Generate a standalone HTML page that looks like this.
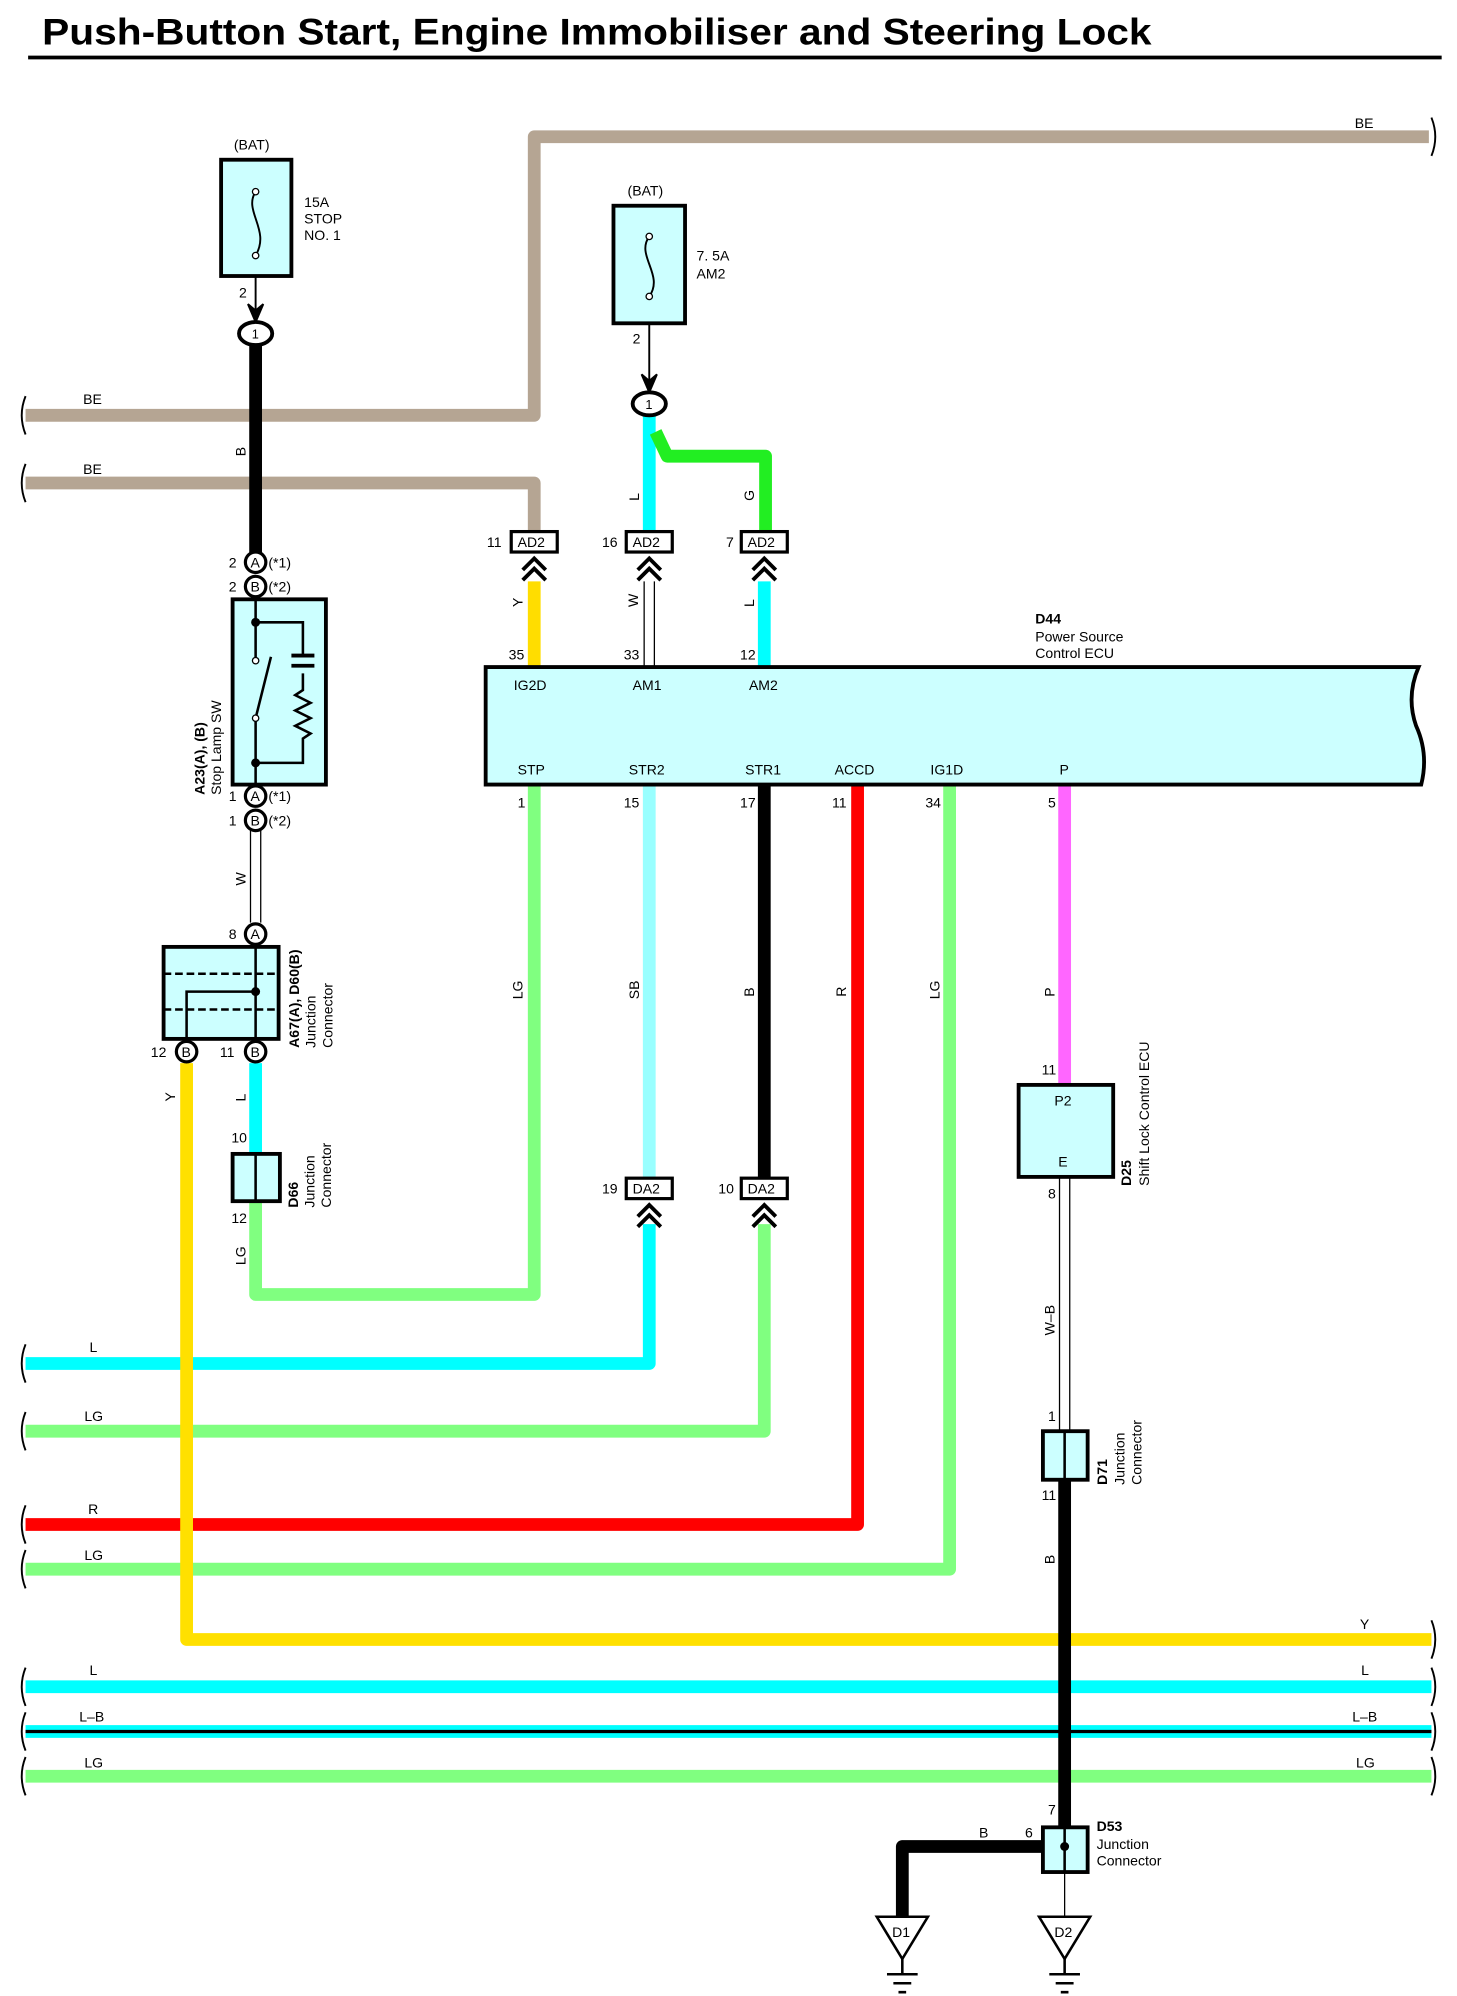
<!DOCTYPE html>
<html><head><meta charset="utf-8"><style>
html,body{margin:0;padding:0;background:#fff}
svg{display:block}
text{font-family:"Liberation Sans",sans-serif;font-size:11px;fill:#000}
.b{font-weight:bold}
</style></head><body>
<svg width="1457" height="1996" viewBox="0 0 1140 1562" preserveAspectRatio="none" xmlns="http://www.w3.org/2000/svg">
<text x="33" y="35" class="b" style="font-size:29px" textLength="868" lengthAdjust="spacingAndGlyphs">Push-Button Start, Engine Immobiliser and Steering Lock</text>
<line x1="22" y1="45" x2="1128" y2="45" stroke="#000" stroke-width="3"/>

<g fill="none" stroke-linejoin="round" stroke-linecap="butt">
<path d="M1118,107 H418 V325 H20" stroke="#b5a593" stroke-width="10"/>
<path d="M20,378 H418 V416" stroke="#b5a593" stroke-width="10"/>
<path d="M20,1067 H508 V958" stroke="#00ffff" stroke-width="10"/>
<path d="M20,1120 H598 V958" stroke="#80ff80" stroke-width="10"/>
<path d="M20,1193 H671 V614" stroke="#ff0000" stroke-width="10"/>
<path d="M20,1228 H743 V614" stroke="#80ff80" stroke-width="10"/>
<path d="M146,832 V1283 H1120" stroke="#ffe000" stroke-width="10"/>
<path d="M20,1320 H1120" stroke="#00ffff" stroke-width="10"/>
<path d="M20,1355 H1120" stroke="#00ffff" stroke-width="10"/>
<path d="M20,1355 H1120" stroke="#000" stroke-width="2.5"/>
<path d="M20,1390 H1120" stroke="#80ff80" stroke-width="10"/>
<path d="M200,270 V433" stroke="#000" stroke-width="10"/>
<path d="M200,832 V903" stroke="#00ffff" stroke-width="10"/>
<path d="M200,940 V1013 H418 V614" stroke="#80ff80" stroke-width="10"/>
<path d="M508,324 V416" stroke="#00ffff" stroke-width="10"/>
<path d="M513,338 L522,357 H599 V416" stroke="#22ee22" stroke-width="10"/>
<path d="M418,455 V522" stroke="#ffdd00" stroke-width="10"/>
<path d="M598,455 V522" stroke="#00ffff" stroke-width="10"/>
<path d="M508,614 V922" stroke="#99ffff" stroke-width="10"/>
<path d="M598,614 V922" stroke="#000" stroke-width="10"/>
<path d="M833,614 V849" stroke="#ff66ff" stroke-width="10"/>
<path d="M833,1158 V1430" stroke="#000" stroke-width="10"/>
<path d="M816,1445 H706 V1500" stroke="#000" stroke-width="10"/>
</g>
<g stroke="#000" stroke-width="1" fill="none">
<path d="M196,650 V722 M204,650 V722"/>
<path d="M504,455 V522 M512,455 V522"/>
<path d="M829,921 V1120 M837,921 V1120"/>
<path d="M833,1465 V1500"/>
<path d="M200,216 V250" stroke-width="1.5"/>
<path d="M508,253 V305" stroke-width="1.5"/>
</g>
<path d="M194,238 L200,252 L206,238 L200,243 Z" fill="#000" stroke="#000" stroke-width="1.5"/>
<path d="M502,293 L508,307 L514,293 L508,298 Z" fill="#000" stroke="#000" stroke-width="1.5"/>
<g stroke="#000" stroke-width="1.5" fill="none">
<path d="M20,310 q-6,15 0,30"/><path d="M20,363 q-6,15 0,30"/>
<path d="M20,1052 q-6,15 0,30"/><path d="M20,1105 q-6,15 0,30"/>
<path d="M20,1178 q-6,15 0,30"/><path d="M20,1213 q-6,15 0,30"/>
<path d="M20,1305 q-6,15 0,30"/><path d="M20,1340 q-6,15 0,30"/><path d="M20,1375 q-6,15 0,30"/>
<path d="M1120,92 q6,15 0,30"/><path d="M1120,1268 q6,15 0,30"/>
<path d="M1120,1305 q6,15 0,30"/><path d="M1120,1340 q6,15 0,30"/><path d="M1120,1375 q6,15 0,30"/>
</g>
<rect x="173" y="125" width="55" height="91" fill="#ccffff" stroke="#000" stroke-width="3"/>
<path d="M200,150 C190,165 212,180 200,200" fill="none" stroke="#000" stroke-width="1.5"/>
<circle cx="200" cy="150" r="2.5" fill="#fff" stroke="#000"/><circle cx="200" cy="200" r="2.5" fill="#fff" stroke="#000"/>
<text x="183" y="117">(BAT)</text>
<text x="238" y="162">15A</text><text x="238" y="175">STOP</text><text x="238" y="188">NO. 1</text>
<text x="187" y="233">2</text>
<ellipse cx="200" cy="261" rx="13" ry="9" fill="#fff" stroke="#000" stroke-width="3"/><text x="197" y="265" style="font-size:10px">1</text>

<rect x="480" y="161" width="56" height="92" fill="#ccffff" stroke="#000" stroke-width="3"/>
<path d="M508,185 C497,200 520,215 508,232" fill="none" stroke="#000" stroke-width="1.5"/>
<circle cx="508" cy="185" r="2.5" fill="#fff" stroke="#000"/><circle cx="508" cy="232" r="2.5" fill="#fff" stroke="#000"/>
<text x="491" y="153">(BAT)</text>
<text x="545" y="204">7. 5A</text><text x="545" y="218">AM2</text>
<text x="495" y="269">2</text>
<ellipse cx="508" cy="316" rx="13" ry="9" fill="#fff" stroke="#000" stroke-width="3"/><text x="505" y="320" style="font-size:10px">1</text>

<g font-size="11">
<rect x="400" y="416" width="36" height="16" fill="#fff" stroke="#000" stroke-width="2.5"/><text x="405" y="428">AD2</text><text x="381" y="428">11</text>
<rect x="490" y="416" width="36" height="16" fill="#fff" stroke="#000" stroke-width="2.5"/><text x="495" y="428">AD2</text><text x="471" y="428">16</text>
<rect x="580" y="416" width="36" height="16" fill="#fff" stroke="#000" stroke-width="2.5"/><text x="585" y="428">AD2</text><text x="568" y="428">7</text>
<rect x="490" y="922" width="36" height="16" fill="#fff" stroke="#000" stroke-width="2.5"/><text x="495" y="934">DA2</text><text x="471" y="934">19</text>
<rect x="580" y="922" width="36" height="16" fill="#fff" stroke="#000" stroke-width="2.5"/><text x="585" y="934">DA2</text><text x="562" y="934">10</text>
</g>
<g fill="none" stroke="#000" stroke-width="3">
<path d="M409,446 L418,437 L427,446 M409,454 L418,445 L427,454"/>
<path d="M499,446 L508,437 L517,446 M499,454 L508,445 L517,454"/>
<path d="M589,446 L598,437 L607,446 M589,454 L598,445 L607,454"/>
<path d="M499,952 L508,943 L517,952 M499,960 L508,951 L517,960"/>
<path d="M589,952 L598,943 L607,952 M589,960 L598,951 L607,960"/>
</g>

<path d="M380,522 H1110 Q1100,545 1108,568 Q1118,590 1112,614 H380 Z" fill="#ccffff" stroke="#000" stroke-width="3"/>
<text x="810" y="488" class="b">D44</text><text x="810" y="502">Power Source</text><text x="810" y="515">Control ECU</text>
<text x="398" y="516">35</text><text x="488" y="516">33</text><text x="579" y="516">12</text>
<text x="402" y="540">IG2D</text><text x="495" y="540">AM1</text><text x="586" y="540">AM2</text>
<text x="405" y="606">STP</text><text x="492" y="606">STR2</text><text x="583" y="606">STR1</text><text x="653" y="606">ACCD</text><text x="728" y="606">IG1D</text><text x="829" y="606">P</text>
<text x="405" y="632">1</text><text x="488" y="632">15</text><text x="579" y="632">17</text><text x="651" y="632">11</text><text x="724" y="632">34</text><text x="820" y="632">5</text>

<g>
<text transform="translate(192,357) rotate(-90)">B</text>
<text transform="translate(500,392) rotate(-90)">L</text>
<text transform="translate(590,392) rotate(-90)">G</text>
<text transform="translate(409,475) rotate(-90)">Y</text>
<text transform="translate(499,475) rotate(-90)">W</text>
<text transform="translate(590,475) rotate(-90)">L</text>
<text transform="translate(192,693) rotate(-90)">W</text>
<text transform="translate(192,862) rotate(-90)">L</text>
<text transform="translate(137,862) rotate(-90)">Y</text>
<text transform="translate(192,990) rotate(-90)">LG</text>
<text transform="translate(409,782) rotate(-90)">LG</text>
<text transform="translate(500,782) rotate(-90)">SB</text>
<text transform="translate(590,780) rotate(-90)">B</text>
<text transform="translate(662,780) rotate(-90)">R</text>
<text transform="translate(735,782) rotate(-90)">LG</text>
<text transform="translate(825,780) rotate(-90)">P</text>
<text transform="translate(825,1045) rotate(-90)">W–B</text>
<text transform="translate(825,1224) rotate(-90)">B</text>
</g>
<text x="65" y="316">BE</text><text x="65" y="371">BE</text><text x="1060" y="100">BE</text>
<text x="70" y="1058">L</text><text x="66" y="1112">LG</text><text x="69" y="1185">R</text><text x="66" y="1221">LG</text>
<text x="1064" y="1275">Y</text>
<text x="70" y="1311">L</text><text x="1065" y="1311">L</text>
<text x="62" y="1347">L–B</text><text x="1058" y="1347">L–B</text>
<text x="66" y="1383">LG</text><text x="1061" y="1383">LG</text>

<g stroke="#000" stroke-width="2.5">
<circle cx="200" cy="440" r="8" fill="#fff"/><circle cx="200" cy="459" r="8" fill="#fff"/>
<circle cx="200" cy="623" r="8" fill="#fff"/><circle cx="200" cy="642" r="8" fill="#fff"/>
<circle cx="200" cy="731" r="8" fill="#fff"/>
<circle cx="146" cy="823" r="8" fill="#fff"/><circle cx="200" cy="823" r="8" fill="#fff"/>
</g>
<g style="font-size:10px">
<text x="196" y="444">A</text><text x="196" y="463">B</text><text x="196" y="627">A</text><text x="196" y="646">B</text><text x="196" y="735">A</text>
<text x="142" y="827">B</text><text x="196" y="827">B</text>
</g>
<text x="179" y="444">2</text><text x="179" y="463">2</text><text x="210" y="444">(*1)</text><text x="210" y="463">(*2)</text>
<text x="179" y="627">1</text><text x="179" y="646">1</text><text x="210" y="627">(*1)</text><text x="210" y="646">(*2)</text>
<text x="179" y="735">8</text><text x="118" y="827">12</text><text x="172" y="827">11</text>
<rect x="182" y="469" width="73" height="145" fill="#ccffff" stroke="#000" stroke-width="3"/>
<g stroke="#000" stroke-width="2" fill="none">
<path d="M200,469 V517 M200,562 V614 M200,487 H237 V513 M237,527 V540 l-6,4 l12,6 l-12,6 l12,6 l-12,6 l12,6 l-6,4 V597 H200"/>
<path d="M228,513 H246 M228,521 H246" stroke-width="3"/>
<path d="M200,562 L212,514"/>
</g>
<circle cx="200" cy="487" r="3.5"/><circle cx="200" cy="597" r="3.5"/>
<circle cx="200" cy="517" r="2.5" fill="#fff" stroke="#000"/><circle cx="200" cy="562" r="2.5" fill="#fff" stroke="#000"/>
<text transform="translate(160,622) rotate(-90)" class="b">A23(A), (B)</text>
<text transform="translate(173,622) rotate(-90)">Stop Lamp SW</text>

<rect x="128" y="741" width="90" height="72" fill="#ccffff" stroke="#000" stroke-width="3"/>
<g stroke="#000" stroke-width="2" fill="none">
<path d="M128,762 H218 M128,790 H218" stroke-dasharray="6,3"/>
<path d="M200,739 V815 M146,815 V776 H200"/>
</g>
<circle cx="200" cy="776" r="3.5"/>
<text transform="translate(234,820) rotate(-90)" class="b">A67(A), D60(B)</text>
<text transform="translate(247,820) rotate(-90)">Junction</text>
<text transform="translate(260,820) rotate(-90)">Connector</text>

<text x="181" y="894">10</text><text x="181" y="957">12</text>
<rect x="182" y="903" width="37" height="37" fill="#ccffff" stroke="#000" stroke-width="3"/>
<line x1="200" y1="903" x2="200" y2="940" stroke="#000" stroke-width="2"/>
<text transform="translate(233,945) rotate(-90)" class="b">D66</text>
<text transform="translate(246,945) rotate(-90)">Junction</text>
<text transform="translate(259,945) rotate(-90)">Connector</text>

<text x="815" y="841">11</text><text x="820" y="938">8</text>
<rect x="797" y="849" width="74" height="72" fill="#ccffff" stroke="#000" stroke-width="3"/>
<text x="825" y="865">P2</text><text x="828" y="913">E</text>
<text transform="translate(885,928) rotate(-90)" class="b">D25</text>
<text transform="translate(899,928) rotate(-90)">Shift Lock Control ECU</text>

<text x="820" y="1112">1</text><text x="815" y="1174">11</text>
<rect x="816" y="1120" width="35" height="38" fill="#ccffff" stroke="#000" stroke-width="3"/>
<line x1="833" y1="1120" x2="833" y2="1158" stroke="#000" stroke-width="2"/>
<text transform="translate(866,1162) rotate(-90)" class="b">D71</text>
<text transform="translate(880,1162) rotate(-90)">Junction</text>
<text transform="translate(893,1162) rotate(-90)">Connector</text>

<text x="820" y="1420">7</text><text x="802" y="1438">6</text><text x="766" y="1438">B</text>
<rect x="816" y="1430" width="35" height="35" fill="#ccffff" stroke="#000" stroke-width="3"/>
<line x1="833" y1="1430" x2="833" y2="1465" stroke="#000" stroke-width="2"/>
<circle cx="833" cy="1445" r="3.5"/>
<text x="858" y="1433" class="b">D53</text><text x="858" y="1447">Junction</text><text x="858" y="1460">Connector</text>

<g stroke="#000" stroke-width="2" fill="#fff">
<path d="M686,1500 H726 L706,1533 Z"/><path d="M813,1500 H853 L833,1533 Z"/>
</g>
<g stroke="#000" stroke-width="2">
<path d="M706,1533 V1544 M694,1545 H718 M699,1552 H713 M703,1559 H709"/>
<path d="M833,1533 V1544 M821,1545 H845 M826,1552 H840 M830,1559 H836"/>
</g>
<text x="698" y="1516">D1</text><text x="825" y="1516">D2</text>
</svg>
</body></html>
